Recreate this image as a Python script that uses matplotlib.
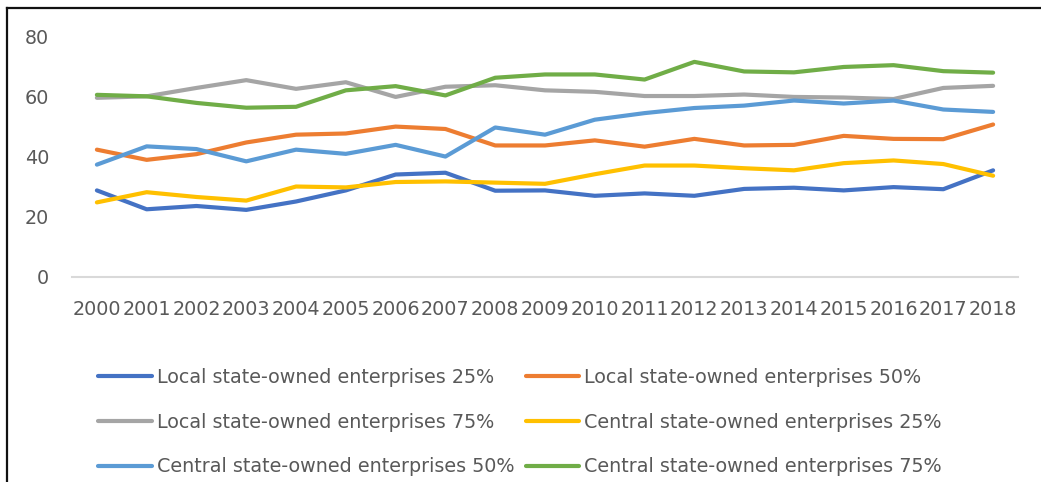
import numpy as np
import matplotlib.pyplot as plt
from matplotlib.lines import Line2D

years = [str(y) for y in range(2000, 2019)]

local_25 = [28.8, 22.5, 23.6, 22.3, 25.1, 28.8, 34.1, 34.7, 28.7, 28.8,
            27.0, 27.8, 27.0, 29.3, 29.7, 28.8, 29.9, 29.2, 35.5]
local_50 = [42.4, 39.0, 40.9, 44.8, 47.4, 47.8, 50.1, 49.3, 43.8, 43.8,
            45.5, 43.4, 46.0, 43.8, 44.0, 47.0, 46.0, 45.9, 50.8]
local_75 = [59.7, 60.2, 63.0, 65.6, 62.7, 64.9, 60.0, 63.4, 63.9, 62.2,
            61.7, 60.3, 60.3, 60.8, 60.0, 59.8, 59.3, 63.0, 63.7]
central_25 = [24.8, 28.2, 26.6, 25.4, 30.1, 29.8, 31.6, 31.8, 31.4, 31.0,
              34.2, 37.1, 37.1, 36.2, 35.5, 37.9, 38.8, 37.6, 33.7]
central_50 = [37.4, 43.5, 42.6, 38.5, 42.4, 41.0, 44.0, 40.1, 49.8, 47.4,
              52.4, 54.6, 56.3, 57.1, 58.8, 57.8, 58.8, 55.8, 55.0]
central_75 = [60.7, 60.2, 58.0, 56.4, 56.7, 62.2, 63.6, 60.5, 66.4, 67.5,
              67.5, 65.8, 71.7, 68.5, 68.2, 70.0, 70.6, 68.6, 68.1]

labels = ["Local state-owned enterprises 25%", "Local state-owned enterprises 50%",
          "Local state-owned enterprises 75%", "Central state-owned enterprises 25%",
          "Central state-owned enterprises 50%", "Central state-owned enterprises 75%"]
colors = ["#4472C4", "#ED7D31", "#A5A5A5", "#FFC000", "#5B9BD5", "#70AD47"]
series = [local_25, local_50, local_75, central_25, central_50, central_75]

plt.rcParams['font.family'] = ['DejaVu Sans']
fs = 13.8
txt = "#595959"

fig = plt.figure(figsize=(10.41, 4.82), dpi=100)
ax = fig.add_axes([72/1041, 1 - 276.7/482, (1018-72)/1041, (276.7-37)/482])

x = np.arange(len(years))
handles = []
for s, c, lab in zip(series, colors, labels):
    h, = ax.plot(x, s, color=c, lw=3, label=lab, solid_capstyle='round')
    handles.append(h)

ax.set_xlim(-0.5, len(years) - 0.5)
ax.set_ylim(0, 80)
ax.set_yticks([0, 20, 40, 60, 80])
ax.set_xticks(x)
ax.set_xticklabels(years)
ax.tick_params(axis='both', length=0, labelsize=fs, colors=txt)
ax.tick_params(axis='y', pad=16.5)
ax.tick_params(axis='x', pad=17)
for side in ['top', 'right', 'left']:
    ax.spines[side].set_visible(False)
ax.spines['bottom'].set_color("#D9D9D9")
ax.spines['bottom'].set_linewidth(1.5)

# legend filled column-first, so reorder to match row-wise layout
order = [0, 2, 4, 1, 3, 5]
fig.legend([handles[i] for i in order], [labels[i] for i in order],
           loc='upper left', bbox_to_anchor=(98/1041, 1 - 368/482),
           ncol=2, frameon=False, fontsize=fs, labelcolor=txt,
           handlelength=2.8, handletextpad=0.26, columnspacing=0.6,
           labelspacing=1.34, borderpad=0, borderaxespad=0)

# outer frame (left and top edges visible)
fig.add_artist(Line2D([7/1041, 7/1041], [0, 1 - 8/482], color="#111111", lw=1.6,
                      transform=fig.transFigure))
fig.add_artist(Line2D([7/1041, 1], [1 - 8/482, 1 - 8/482], color="#111111", lw=1.6,
                      transform=fig.transFigure))

fig.savefig("out.png", dpi=100)
